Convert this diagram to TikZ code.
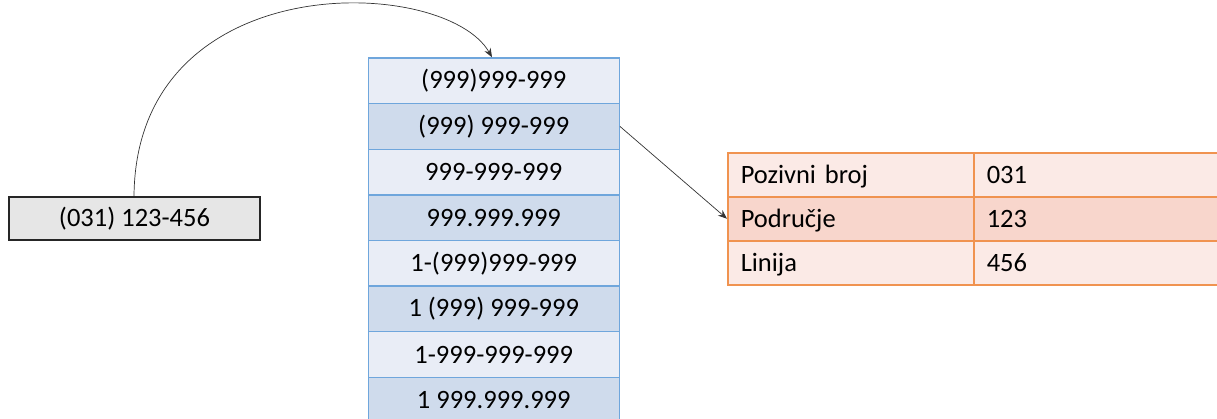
\documentclass[tikz,border=0pt]{standalone}
\usepackage{fontspec}
\setmainfont{Carlito}
\usetikzlibrary{arrows.meta}
\definecolor{blueA}{HTML}{E9EDF6}
\definecolor{blueB}{HTML}{CFDBEC}
\definecolor{blueLine}{HTML}{6FA6DC}
\definecolor{orA}{HTML}{FBEAE6}
\definecolor{orB}{HTML}{F8D6CC}
\definecolor{orLine}{HTML}{F09350}
\definecolor{greyFill}{HTML}{E6E6E6}
\definecolor{greyLine}{HTML}{262626}
\begin{document}
\begin{tikzpicture}[x=1pt,y=-1pt,
  every node/.style={font=\fontsize{26.5}{30}\selectfont, text=black},
  fmt/.style={draw=blueLine, line width=1.5pt, minimum width=251pt, minimum height=45.6pt, inner sep=0pt, anchor=north west},
  fmtA/.style={fmt, fill=blueA},
  fmtB/.style={fmt, fill=blueB},
  cell/.style={draw=orLine, line width=1.5pt, minimum height=44pt, inner xsep=0pt, inner ysep=0pt, anchor=north west, text width=#1, align=left, text height=21pt, text depth=3pt},
  lab/.style={cell=220pt, minimum width=246pt},
  val/.style={cell=220pt, minimum width=246pt},
  inbox/.style={draw=greyLine, line width=2pt, fill=greyFill, minimum width=251pt, minimum height=43pt, inner sep=0pt, anchor=north west},
  conn/.style={draw=black!80, line width=0.7pt, -{Stealth[length=9pt,width=7pt]}}
]
\useasboundingbox (0,0) rectangle (1217,418);

\node[inbox] (input) at (8,196) {(031) 123-456};

\node[fmtA] (r1) at (367.5,57.3) {(999)999-999};
\node[fmtB] (r2) at (367.5,102.9) {(999) 999-999};
\node[fmtA] (r3) at (367.5,148.5) {999-999-999};
\node[fmtB] (r4) at (367.5,194.1) {999.999.999};
\node[fmtA] (r5) at (367.5,239.7) {1-(999)999-999};
\node[fmtB] (r6) at (367.5,285.3) {1 (999) 999-999};
\node[fmtA] (r7) at (367.5,330.9) {1-999-999-999};
\node[fmtB] (r8) at (367.5,376.5) {1 999.999.999};

\node[lab, fill=orA] (l1) at (727,152) {Pozivni broj};
\node[val, fill=orA] (v1) at (973,152) {031};
\node[lab, fill=orB] (l2) at (727,196) {Područje};
\node[val, fill=orB] (v2) at (973,196) {123};
\node[lab, fill=orA] (l3) at (727,240) {Linija};
\node[val, fill=orA] (v3) at (973,240) {456};

\coordinate (top) at (492,57.3);
\draw[conn] (input.north -| 134,0) .. controls (136,-35) and (445,-25) .. (top);
\draw[conn] (r2.east) -- (l2.west);
\end{tikzpicture}
\end{document}
